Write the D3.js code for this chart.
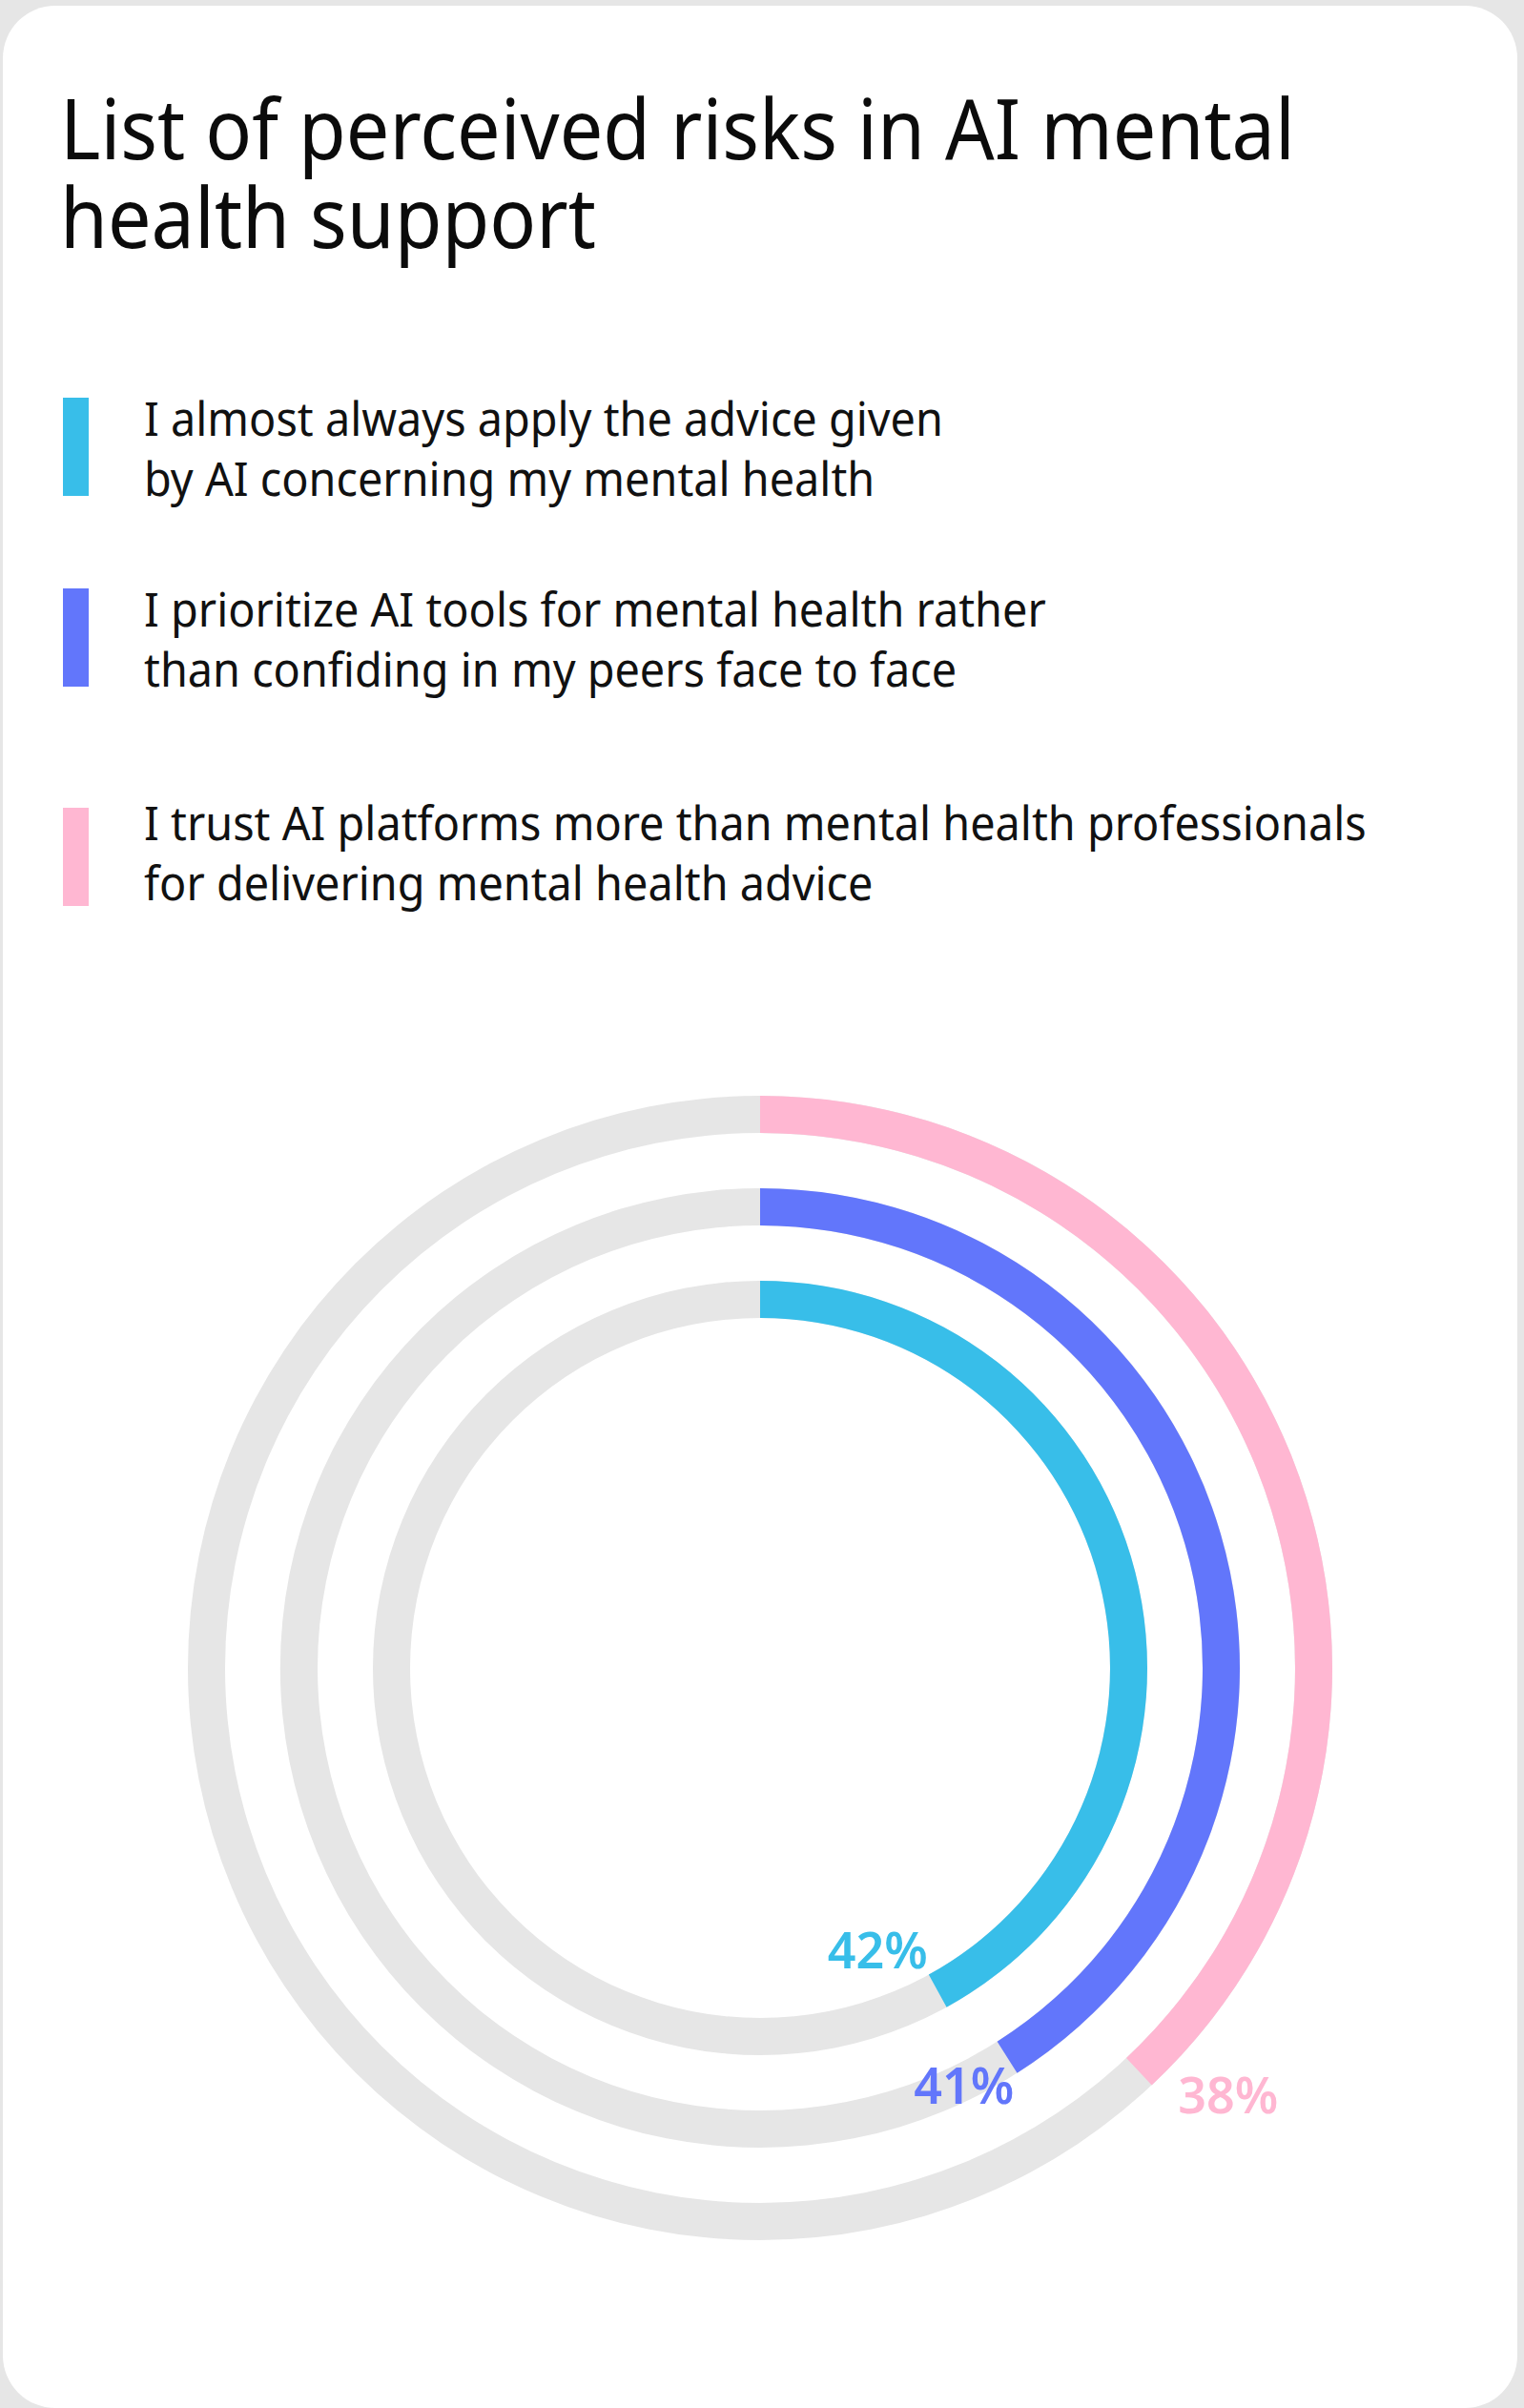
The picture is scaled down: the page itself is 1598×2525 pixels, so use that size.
<!DOCTYPE html>
<html>
<head>
<meta charset="utf-8">
<script src="https://cdn.jsdelivr.net/npm/d3@7"></script>
<style>
  html, body { margin: 0; padding: 0; background: #e6e6e6; }
  svg { display: block; }
</style>
</head>
<body>
<svg id="chart" width="1598" height="2525"></svg>
<script>
// ---- data ----
const titleLines = ["List of perceived risks in AI mental", "health support"];
const categories = ["apply", "prioritize", "trust"];
const legendLines = [
  ["I almost always apply the advice given", "by AI concerning my mental health"],
  ["I prioritize AI tools for mental health rather", "than confiding in my peers face to face"],
  ["I trust AI platforms more than mental health professionals", "for delivering mental health advice"]
];
const values = [42, 41, 38];
const colors = ["#38bee9", "#6276fb", "#ffb7d2"];

// ---- layout ----
const font = "'Noto Sans', 'DejaVu Sans', sans-serif";
const svg = d3.select("#chart");

// white card with rounded corners
svg.append("rect")
  .attr("x", 3).attr("y", 6)
  .attr("width", 1588).attr("height", 2519)
  .attr("rx", 55).attr("ry", 55)
  .attr("fill", "#ffffff");

// multi-line text block, squeezed horizontally so its first line spans `width`
function textBlock(parent, lines, x, y, lineHeight, size, width, color) {
  const g = parent.append("g");
  const t = g.append("text")
    .attr("font-family", font)
    .attr("font-size", size)
    .attr("fill", color);
  t.selectAll("tspan").data(lines).join("tspan")
    .attr("x", 0)
    .attr("y", (d, i) => i * lineHeight)
    .text(d => d);
  const n = t.select("tspan").node().getComputedTextLength();
  g.attr("transform", `translate(${x},${y}) scale(${width / n},1)`);
  return g;
}

// title
textBlock(svg, titleLines, 63, 167, 93, 87, 1358 - 63, "#0b0b0b");

// legend
const legendTop = [417, 617, 847];
const legendBaseline = [40, 40, 34];
const legend = svg.append("g");
legend.selectAll("rect").data(categories).join("rect")
  .attr("x", 66).attr("y", (d, i) => legendTop[i])
  .attr("width", 27).attr("height", 103)
  .attr("fill", (d, i) => colors[i]);

// shared squeeze factor for all legend text, taken from the longest line
const probe = svg.append("text").attr("font-family", font).attr("font-size", 49).text(legendLines[2][0]);
const legendScale = (1433 - 151) / probe.node().getComputedTextLength();
probe.remove();

categories.forEach((c, i) => {
  const g = legend.append("g")
    .attr("transform", `translate(151,${legendTop[i] + legendBaseline[i]}) scale(${legendScale},1)`);
  const t = g.append("text")
    .attr("font-family", font)
    .attr("font-size", 49)
    .attr("fill", "#111111");
  t.selectAll("tspan").data(legendLines[i]).join("tspan")
    .attr("x", 0)
    .attr("y", (d, j) => j * 63)
    .text(d => d);
});

// concentric progress rings
const cx = 797, cy = 1749;
const ringWidth = 39;
const angle = d3.scaleLinear().domain([0, 100]).range([0, 2 * Math.PI]);
const radius = d3.scalePoint().domain(categories).range([386.5, 580.5]);
const arc = d3.arc()
  .innerRadius(d => radius(d.cat) - ringWidth / 2)
  .outerRadius(d => radius(d.cat) + ringWidth / 2)
  .startAngle(0);

const rows = categories.map((cat, i) => ({ cat, value: values[i], color: colors[i] }));
const rings = svg.append("g").attr("transform", `translate(${cx},${cy})`);

rings.selectAll("path.track").data(rows).join("path")
  .attr("class", "track")
  .attr("d", d => arc.endAngle(2 * Math.PI)(d))
  .attr("fill", "#e6e6e6");

rings.selectAll("path.value").data(rows).join("path")
  .attr("class", "value")
  .attr("d", d => arc.endAngle(angle(d.value))(d))
  .attr("fill", d => d.color);

// value labels, placed near each arc's end
const labelNudge = [
  { da: 6.2, dr: -66 },
  { da: 6.4, dr: 4 },
  { da: -4.4, dr: 84 }
];
rings.selectAll("text.value-label").data(rows).join("text")
  .attr("class", "value-label")
  .each(function (d, i) {
    const a = angle(d.value) + labelNudge[i].da * Math.PI / 180;
    const r = radius(d.cat) + labelNudge[i].dr;
    d3.select(this)
      .attr("x", r * Math.sin(a))
      .attr("y", -r * Math.cos(a));
  })
  .attr("dy", "0.36em")
  .attr("text-anchor", "middle")
  .attr("font-family", font)
  .attr("font-size", 52)
  .attr("font-weight", 600)
  .attr("fill", d => d.color)
  .text(d => d.value + "%");
</script>
</body>
</html>
